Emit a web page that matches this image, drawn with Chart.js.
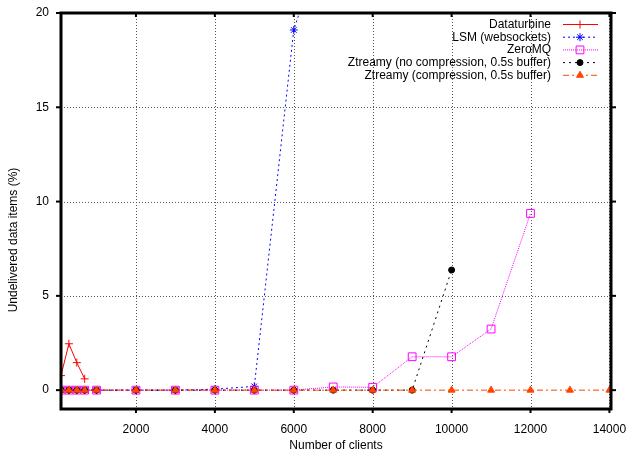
<!DOCTYPE html>
<html>
<head>
<meta charset="utf-8">
<script src="https://cdn.jsdelivr.net/npm/chart.js@4/dist/chart.umd.min.js"></script>
<style>
  html, body { margin: 0; padding: 0; background: #fff; }
  #wrap { width: 627px; height: 455px; }
</style>
</head>
<body>
<div id="wrap"><canvas id="grafico"></canvas></div>
<script>
// dados
let clientesDT = [100, 300, 500, 700];
let valoresDT = [0.77, 2.46, 1.46, 0.6];

let clientesLSM = [100, 300, 500, 700, 1000, 2000, 3000, 4000, 5000, 6000, 7000];
let valoresLSM = [0, 0, 0, 0, 0, 0, 0, 0.05, 0.2, 19.1, 25.5];

let clientesZMQ = [100, 300, 500, 700, 1000, 2000, 3000, 4000, 5000, 6000, 7000, 8000, 9000, 10000, 11000, 12000];
let valoresZMQ = [0, 0, 0, 0, 0, 0, 0, 0, 0, 0, 0.17, 0.15, 1.77, 1.77, 3.24, 9.37];

let clientesZNC = [100, 300, 500, 700, 1000, 2000, 3000, 4000, 5000, 6000, 7000, 8000, 9000, 10000];
let valoresZNC = [0, 0, 0, 0, 0, 0, 0, 0, 0, 0, 0, 0, 0, 6.37];

let clientesZC = [100, 300, 500, 700, 1000, 2000, 3000, 4000, 5000, 6000, 7000, 8000, 9000, 10000, 11000, 12000, 13000, 14000];
let valoresZC = [0, 0, 0, 0, 0, 0, 0, 0, 0, 0, 0, 0, 0, 0, 0, 0, 0, 0];

let ticksX = [2000, 4000, 6000, 8000, 10000, 12000, 14000];
let ticksY = [0, 5, 10, 15, 20];

let nomes = ["Dataturbine", "LSM (websockets)", "ZeroMQ", "Ztreamy (no compression, 0.5s buffer)", "Ztreamy (compression, 0.5s buffer)"];

const fonte = "Liberation Sans, Arial, sans-serif";

function pontos(xs, ys){
    let r = [];
    for(count = 0; count < xs.length; count++){
        r.push({x: xs[count], y: ys[count]});
    }
    return r;
}

let estilos = [
    {cor: "#ff0000", dash: [], ponto: "cross", raio: 4, fill: false, order: 5},
    {cor: "#0000ff", dash: [2, 3], ponto: "star", raio: 4, fill: false, order: 4},
    {cor: "#ff00ff", dash: [1, 1], ponto: "rect", raio: 5.5, fill: false, order: 3},
    {cor: "#000000", dash: [2, 4], ponto: "circle", raio: 3, fill: true, order: 2},
    {cor: "#ff4500", dash: [6, 3, 2, 3], ponto: "triangle", raio: 4, fill: true, order: 1}
];

let series = [
    pontos(clientesDT, valoresDT),
    pontos(clientesLSM, valoresLSM),
    pontos(clientesZMQ, valoresZMQ),
    pontos(clientesZNC, valoresZNC),
    pontos(clientesZC, valoresZC)
];

let datasets = [];
for(count = 0; count < series.length; count++){
    let e = estilos[count];
    datasets.push({
        label: nomes[count],
        data: series[count],
        borderColor: e.cor,
        backgroundColor: e.fill ? e.cor : "rgba(0,0,0,0)",
        borderWidth: 1,
        borderDash: e.dash,
        pointStyle: e.ponto,
        pointRadius: e.raio,
        pointBorderWidth: 1,
        pointBorderColor: e.cor,
        pointBackgroundColor: e.fill ? e.cor : "rgba(0,0,0,0)",
        tension: 0,
        order: e.order
    });
}

// grade pontilhada, moldura grossa e legenda estilo gnuplot
const molduraPlugin = {
    id: "moldura",
    beforeDatasetsDraw(chart){
        const c = chart.ctx, a = chart.chartArea;
        const sx = chart.scales.x, sy = chart.scales.y;
        c.save();
        c.strokeStyle = "#555";
        c.lineWidth = 1;
        c.setLineDash([1, 2]);
        ticksX.forEach(v => {
            let px = Math.round(sx.getPixelForValue(v)) + 0.5;
            c.beginPath(); c.moveTo(px, a.top); c.lineTo(px, a.bottom); c.stroke();
        });
        ticksY.forEach(v => {
            if(v <= 0 || v >= 20) return;
            let py = Math.round(sy.getPixelForValue(v)) + 0.5;
            c.beginPath(); c.moveTo(a.left, py); c.lineTo(a.right, py); c.stroke();
        });
        c.restore();
    },
    afterDraw(chart){
        const c = chart.ctx, a = chart.chartArea;
        const sx = chart.scales.x, sy = chart.scales.y;
        c.save();
        c.strokeStyle = "#000";
        c.lineWidth = 3;
        c.setLineDash([]);
        c.strokeRect(a.left, a.top, a.right - a.left, a.bottom - a.top);
        c.lineWidth = 2;
        ticksX.forEach(v => {
            let px = sx.getPixelForValue(v);
            c.beginPath(); c.moveTo(px, a.bottom); c.lineTo(px, a.bottom + 4); c.stroke();
            c.beginPath(); c.moveTo(px, a.top); c.lineTo(px, a.top + 4); c.stroke();
        });
        ticksY.forEach(v => {
            let py = sy.getPixelForValue(v);
            c.beginPath(); c.moveTo(a.left - 5, py); c.lineTo(a.left, py); c.stroke();
            c.beginPath(); c.moveTo(a.right, py); c.lineTo(a.right + 5, py); c.stroke();
        });

        // titulo do eixo y
        c.fillStyle = "#000";
        c.font = "12px " + fonte;
        c.textAlign = "center";
        c.textBaseline = "middle";
        c.translate(14, 240);
        c.rotate(-Math.PI / 2);
        c.fillText("Undelivered data items (%)", 0, 0);
        c.restore();

        // legenda
        c.save();
        c.font = "12px " + fonte;
        c.textAlign = "right";
        c.textBaseline = "middle";
        for(count = 0; count < chart.data.datasets.length; count++){
            let ds = chart.data.datasets[count];
            let y = 24.5 + count * 12.7;
            c.fillStyle = "#000";
            c.fillText(ds.label, 551, y);
            c.strokeStyle = ds.borderColor;
            c.lineWidth = 1;
            c.setLineDash(ds.borderDash);
            c.beginPath(); c.moveTo(563, y); c.lineTo(598, y); c.stroke();
            c.setLineDash([]);
            c.fillStyle = ds.pointBackgroundColor;
            c.strokeStyle = ds.borderColor;
            Chart.helpers.drawPoint(c, {
                pointStyle: ds.pointStyle,
                radius: ds.pointRadius,
                borderWidth: 1
            }, 580, y);
        }
        c.restore();
    }
};

var ctx = document.getElementById("grafico").getContext("2d");

var grafico = new Chart(ctx, {
    type: "line",
    data: { datasets: datasets },
    options: {
        responsive: true,
        maintainAspectRatio: false,
        animation: false,
        devicePixelRatio: 1,
        layout: { padding: { top: 13, right: 16, left: 0, bottom: 0 } },
        plugins: {
            legend: { display: false },
            tooltip: { enabled: false }
        },
        scales: {
            x: {
                type: "linear",
                min: 100,
                max: 14040,
                grid: { display: false },
                border: { display: false },
                afterBuildTicks: (s) => { s.ticks = ticksX.map(v => ({value: v})); },
                afterFit: (s) => { s.height = 46; s.paddingLeft = 0; s.paddingRight = 0; },
                ticks: {
                    color: "#000",
                    padding: 5,
                    maxRotation: 0,
                    font: { family: fonte, size: 12 },
                    callback: (v) => String(v)
                },
                title: {
                    display: true,
                    text: "Number of clients",
                    color: "#000",
                    font: { family: fonte, size: 12 },
                    padding: { top: 0, bottom: 2 }
                }
            },
            y: {
                type: "linear",
                min: -1,
                max: 20,
                grid: { display: false },
                border: { display: false },
                afterBuildTicks: (s) => { s.ticks = ticksY.map(v => ({value: v})); },
                afterFit: (s) => { s.width = 61; s.paddingTop = 0; s.paddingBottom = 0; },
                ticks: {
                    color: "#000",
                    padding: 4,
                    font: { family: fonte, size: 12 }
                }
            }
        }
    },
    plugins: [molduraPlugin]
});
</script>
</body>
</html>
